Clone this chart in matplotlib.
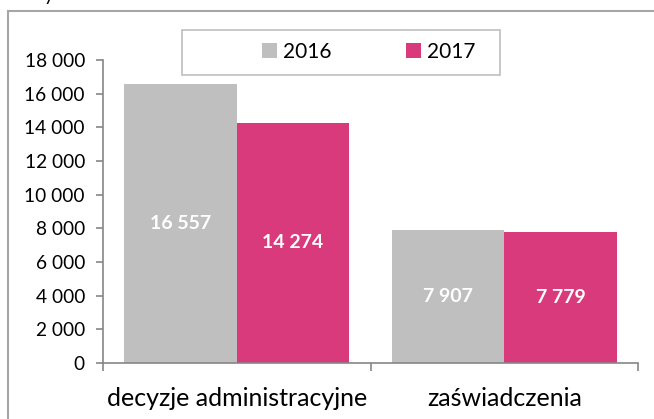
import matplotlib.pyplot as plt
import matplotlib.patches as mpatches
from matplotlib.lines import Line2D
import numpy as np

categories = ["decyzje administracyjne", "zaświadczenia"]
years = ["2016", "2017"]
values_2016 = [16557, 7907]
values_2017 = [14274, 7779]
yticks = list(range(0, 18001, 2000))

colors = ["#BFBFBF", "#D93A7C"]
axis_gray = "#868686"

plt.rcParams['font.family'] = ['Lato', 'DejaVu Sans']

fig = plt.figure(figsize=(6.54, 4.19), dpi=100)
W, H = 654, 419

# outer chart frame: only top and left edges fall inside the picture
frame_kw = dict(transform=fig.transFigure, color="#A6A6A6", linewidth=1.5)
fig.lines.append(Line2D([8 / W, 1.0], [1 - 11 / H, 1 - 11 / H], **frame_kw))
fig.lines.append(Line2D([8 / W, 8 / W], [0.0, 1 - 11 / H], **frame_kw))
# cut-off title letter above the frame
fig.text(44 / W, 1 - 1.5 / H, "y", fontsize=14, va="baseline", ha="left")

ax = fig.add_axes([103 / W, 1 - 363 / H, (638 - 103) / W, (363 - 60) / H])

x = np.arange(len(categories))
w = 0.42
bars1 = ax.bar(x - w / 2, values_2016, w, color=colors[0], label=years[0])
bars2 = ax.bar(x + w / 2, values_2017, w, color=colors[1], label=years[1])

for bars in (bars1, bars2):
    labels = [f"{b.get_height():,.0f}".replace(",", " ") for b in bars]
    ax.bar_label(bars, labels=labels, label_type="center", color="white",
                 fontsize=14, fontweight="bold")

ax.set_xlim(-0.5, 1.5)
ax.set_ylim(0, 18000)
ax.set_yticks(yticks)
ax.set_yticklabels([f"{t:,}".replace(",", " ") for t in yticks])
ax.set_xticks(x)
ax.set_xticklabels(categories)
ax.set_xticks([-0.5, 0.5, 1.5], minor=True)

for s in ["top", "right"]:
    ax.spines[s].set_visible(False)
for s in ["left", "bottom"]:
    ax.spines[s].set_color(axis_gray)
    ax.spines[s].set_linewidth(1.2)

ax.tick_params(axis="y", length=5, width=1.2, color=axis_gray, pad=8, labelsize=13.8)
ax.tick_params(axis="x", which="major", length=0, pad=17.5, labelsize=18)
ax.tick_params(axis="x", which="minor", length=6, width=1.2, color=axis_gray)

# legend box
fig.patches.append(mpatches.Rectangle((182 / W, 1 - 75 / H), (500 - 182) / W, 45 / H,
                                      transform=fig.transFigure, fill=True,
                                      facecolor="white", edgecolor="#BFBFBF",
                                      linewidth=1.2, zorder=5))
leg = fig.legend(handles=[bars1, bars2], labels=years, loc="center",
                 bbox_to_anchor=(369 / W, 1 - 52 / H), ncol=2, frameon=False,
                 fontsize=15, handlelength=0.7, handleheight=0.7,
                 handletextpad=0.3, columnspacing=3.6)
leg.set_zorder(6)

fig.savefig("out.png", dpi=100)
